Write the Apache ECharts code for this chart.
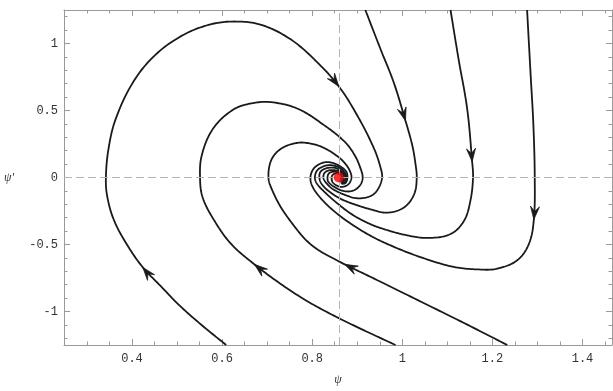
<!DOCTYPE html>
<html><head><meta charset="utf-8">
<script src="https://cdn.jsdelivr.net/npm/echarts@6/dist/echarts.min.js"></script>
<style>html,body{margin:0;padding:0;background:#fff}#c{width:613px;height:391px}</style>
</head><body><div id="c"></div>
<script>
// axis ranges and tick labels
const xMin = 0.249, xMax = 1.4655, yMin = -1.25, yMax = 1.25;
const xMajorTicks = [0.4, 0.6, 0.8, 1, 1.2, 1.4];
const xMinorTicks = [0.3, 0.35, 0.45, 0.5, 0.55, 0.65, 0.7, 0.75, 0.85, 0.9, 0.95, 1.05, 1.1, 1.15, 1.25, 1.3, 1.35, 1.45];
const yMajorTicks = [-1, -0.5, 0, 0.5, 1];
const yMinorTicks = [-1.2, -1.1, -0.9, -0.8, -0.7, -0.6, -0.4, -0.3, -0.2, -0.1, 0.1, 0.2, 0.3, 0.4, 0.6, 0.7, 0.8, 0.9, 1.1, 1.2];

// equilibrium (psi, psi')
const fixedPoint = [0.859, 0];

// trajectories [psi, psi'] in order of travel
const trajA = [[0.609,-1.25],[0.557,-1.108],[0.507,-0.960],[0.461,-0.801],[0.424,-0.671],[0.389,-0.502],[0.360,-0.319],[0.345,-0.142],[0.342,0],[0.348,0.218],[0.364,0.439],[0.402,0.709],[0.449,0.906],[0.508,1.053],[0.570,1.139],[0.627,1.164],[0.687,1.139],[0.753,1.029],[0.812,0.857],[0.859,0.680],[0.900,0.463],[0.937,0.218],[0.952,0.070],[0.955,-0.004],[0.945,-0.092],[0.929,-0.139],[0.900,-0.155],[0.872,-0.129],[0.847,-0.089],[0.832,-0.044],[0.825,-0.004],[0.827,0.033],[0.836,0.052],[0.847,0.055],[0.858,0.048],[0.867,0.030],[0.871,0.004],[0.867,-0.022],[0.860,-0.026]];
const trajB = [[0.985,-1.25],[0.919,-1.147],[0.854,-1.041],[0.790,-0.925],[0.730,-0.794],[0.672,-0.649],[0.620,-0.496],[0.583,-0.323],[0.557,-0.151],[0.551,-0.004],[0.555,0.168],[0.580,0.365],[0.624,0.505],[0.665,0.553],[0.709,0.562],[0.768,0.513],[0.827,0.389],[0.872,0.267],[0.894,0.168],[0.907,0.070],[0.912,-0.004],[0.905,-0.063],[0.889,-0.100],[0.869,-0.100],[0.849,-0.070],[0.836,-0.033],[0.834,-0.004],[0.836,0.026],[0.843,0.041],[0.854,0.041],[0.863,0.026],[0.868,0.004],[0.866,-0.018]];
const trajF = [[1.233,-1.25],[1.137,-1.086],[1.026,-0.901],[0.929,-0.741],[0.872,-0.648],[0.843,-0.597],[0.814,-0.542],[0.789,-0.476],[0.768,-0.397],[0.731,-0.225],[0.709,-0.077],[0.703,-0.004],[0.706,0.100],[0.717,0.173],[0.736,0.225],[0.760,0.254],[0.783,0.260],[0.820,0.230],[0.857,0.156],[0.876,0.092],[0.885,0.037],[0.887,-0.004],[0.881,-0.048],[0.867,-0.070],[0.854,-0.059],[0.845,-0.033],[0.843,-0.004],[0.845,0.018],[0.852,0.030],[0.861,0.026],[0.866,0.004],[0.863,-0.015]];
const trajC = [[0.918,1.25],[0.952,0.955],[0.981,0.709],[1.007,0.424],[1.022,0.242],[1.029,0.107],[1.032,-0.004],[1.026,-0.127],[1.003,-0.225],[0.966,-0.262],[0.929,-0.237],[0.896,-0.203],[0.863,-0.159],[0.836,-0.100],[0.821,-0.048],[0.816,-0.004],[0.818,0.041],[0.829,0.066],[0.843,0.074],[0.856,0.066],[0.867,0.041],[0.873,0.011],[0.873,-0.011],[0.867,-0.033]];
const trajD = [[1.107,1.25],[1.125,0.881],[1.144,0.513],[1.155,0.119],[1.157,-0.004],[1.151,-0.176],[1.137,-0.323],[1.107,-0.422],[1.055,-0.451],[1.003,-0.426],[0.959,-0.385],[0.929,-0.348],[0.889,-0.277],[0.854,-0.188],[0.827,-0.107],[0.811,-0.048],[0.806,-0.004],[0.810,0.048],[0.821,0.077],[0.836,0.092],[0.852,0.085],[0.865,0.063],[0.874,0.026],[0.876,-0.004],[0.872,-0.033],[0.863,-0.041]];
const trajE = [[1.277,1.25],[1.285,0.758],[1.291,0.389],[1.294,-0.004],[1.292,-0.313],[1.281,-0.496],[1.255,-0.618],[1.211,-0.680],[1.174,-0.687],[1.114,-0.667],[1.040,-0.594],[0.974,-0.507],[0.929,-0.434],[0.885,-0.343],[0.847,-0.247],[0.818,-0.151],[0.801,-0.070],[0.796,-0.004],[0.801,0.055],[0.812,0.092],[0.829,0.114],[0.847,0.107],[0.865,0.077],[0.876,0.041],[0.878,-0.004],[0.874,-0.041],[0.865,-0.048]];

// arrowheads: [trajectory, point index]
const arrowMarks = [['A',4],['A',19],['B',5],['F',4],['C',3],['D',3],['E',4]];

const trajNames = ['A', 'B', 'F', 'C', 'D', 'E'];
const trajs = {A: trajA, B: trajB, F: trajF, C: trajC, D: trajD, E: trajE};
const LINE = '#1a1a1a', FRAME = '#9a9a9a', LABEL = '#333';
const labelFont = {fontFamily: 'Liberation Mono', fontSize: 12, color: LABEL};

function xAx(pos, major, withLabels) {
  return {
    type: 'value', min: xMin, max: xMax, position: pos,
    axisLine: {show: major, onZero: false, lineStyle: {color: FRAME, width: 1}},
    axisTick: {show: true, inside: true, length: major ? 6 : 3.5, customValues: major ? xMajorTicks : xMinorTicks, lineStyle: {color: FRAME}},
    axisLabel: withLabels ? Object.assign({show: true, customValues: xMajorTicks, margin: 8, formatter: v => String(v)}, labelFont) : {show: false},
    splitLine: {show: false}, minorTick: {show: false},
    name: withLabels ? 'ψ' : '', nameLocation: 'middle', nameGap: 29,
    nameTextStyle: {fontFamily: 'Liberation Serif', fontStyle: 'italic', fontSize: 12, color: LABEL}
  };
}
function yAx(pos, major, withLabels) {
  return {
    type: 'value', min: yMin, max: yMax, position: pos,
    axisLine: {show: major, onZero: false, lineStyle: {color: FRAME, width: 1}},
    axisTick: {show: true, inside: true, length: major ? 6 : 3.5, customValues: major ? yMajorTicks : yMinorTicks, lineStyle: {color: FRAME}},
    axisLabel: withLabels ? Object.assign({show: true, customValues: yMajorTicks, margin: 6, formatter: v => String(v)}, labelFont) : {show: false},
    splitLine: {show: false}, minorTick: {show: false},
    name: withLabels ? "ψ'" : '', nameLocation: 'middle', nameGap: 50, nameRotate: 0,
    nameTextStyle: {fontFamily: 'Liberation Serif', fontStyle: 'italic', fontSize: 12, color: LABEL}
  };
}

// smooth curve through pixel points (rendering only, Catmull-Rom style handles)
function smoothPixels(P) {
  const out = [P[0]];
  const n = P.length, t = 0.36, steps = 14;
  const handle = (i, sign) => {
    const prev = P[Math.max(i - 1, 0)], next = P[Math.min(i + 1, n - 1)], cur = P[i];
    const vx = next[0] - prev[0], vy = next[1] - prev[1];
    const d0 = Math.hypot(cur[0] - prev[0], cur[1] - prev[1]);
    const d1 = Math.hypot(next[0] - cur[0], next[1] - cur[1]);
    const s = d0 + d1 || 1;
    const f = sign > 0 ? d1 / s : d0 / s;
    return [cur[0] + sign * vx * t * f, cur[1] + sign * vy * t * f];
  };
  for (let i = 0; i < n - 1; i++) {
    const p0 = P[i], p3 = P[i + 1];
    const p1 = handle(i, 1), p2 = handle(i + 1, -1);
    for (let k = 1; k <= steps; k++) {
      const u = k / steps, m = 1 - u;
      out.push([
        m*m*m*p0[0] + 3*m*m*u*p1[0] + 3*m*u*u*p2[0] + u*u*u*p3[0],
        m*m*m*p0[1] + 3*m*m*u*p1[1] + 3*m*u*u*p2[1] + u*u*u*p3[1]
      ]);
    }
  }
  return out;
}

const series = [];
series.push({
  type: 'scatter', data: [], silent: true, z: 1,
  markLine: {
    silent: true, symbol: ['none', 'none'], animation: false,
    label: {show: false},
    lineStyle: {color: '#b4b4b4', type: [8, 4], width: 1},
    emphasis: {disabled: true},
    data: [{xAxis: fixedPoint[0]}, {yAxis: fixedPoint[1]}]
  }
});
series.push({
  type: 'custom', silent: true, z: 3, encode: {x: 0, y: 1},
  data: trajNames.map((k, i) => [trajs[k][0][0], trajs[k][0][1], i]),
  renderItem(params, api) {
    const pts = trajs[trajNames[api.value(2)]].map(p => api.coord(p));
    return {
      type: 'polyline',
      shape: {points: smoothPixels(pts)},
      style: {stroke: LINE, lineWidth: 1.8, fill: null, lineJoin: 'round', lineCap: 'butt'}
    };
  }
});
const arrowData = arrowMarks.map(([k, i]) => {
  const t = trajs[k];
  return [t[i][0], t[i][1], t[i-1][0], t[i-1][1], t[i+1][0], t[i+1][1]];
});
series.push({
  type: 'custom', data: arrowData, z: 5, silent: true, encode: {x: 0, y: 1},
  renderItem(params, api) {
    const p = api.coord([api.value(0), api.value(1)]);
    const a = api.coord([api.value(2), api.value(3)]);
    const b = api.coord([api.value(4), api.value(5)]);
    let dx = b[0] - a[0], dy = b[1] - a[1];
    const len = Math.hypot(dx, dy) || 1; dx /= len; dy /= len;
    const nx = -dy, ny = dx;
    const L = 13, W = 4.5, N = 8;
    return {
      type: 'polygon',
      shape: {points: [
        [p[0], p[1]],
        [p[0] - L*dx + W*nx, p[1] - L*dy + W*ny],
        [p[0] - N*dx, p[1] - N*dy],
        [p[0] - L*dx - W*nx, p[1] - L*dy - W*ny]
      ]},
      style: {fill: LINE, stroke: LINE, lineWidth: 0.8}
    };
  }
});
series.push({
  type: 'scatter', data: [fixedPoint], symbolSize: 10, z: 10, silent: true,
  itemStyle: {color: '#ff0000'}
});

const chart = echarts.init(document.getElementById('c'), null, {renderer: 'canvas'});
chart.setOption({
  animation: false,
  backgroundColor: '#fff',
  grid: {left: 64, top: 10, right: 1, bottom: 42, containLabel: false},
  xAxis: [xAx('bottom', true, true), xAx('bottom', false, false), xAx('top', true, false), xAx('top', false, false)],
  yAxis: [yAx('left', true, true), yAx('left', false, false), yAx('right', true, false), yAx('right', false, false)],
  series: series
});
</script></body></html>
